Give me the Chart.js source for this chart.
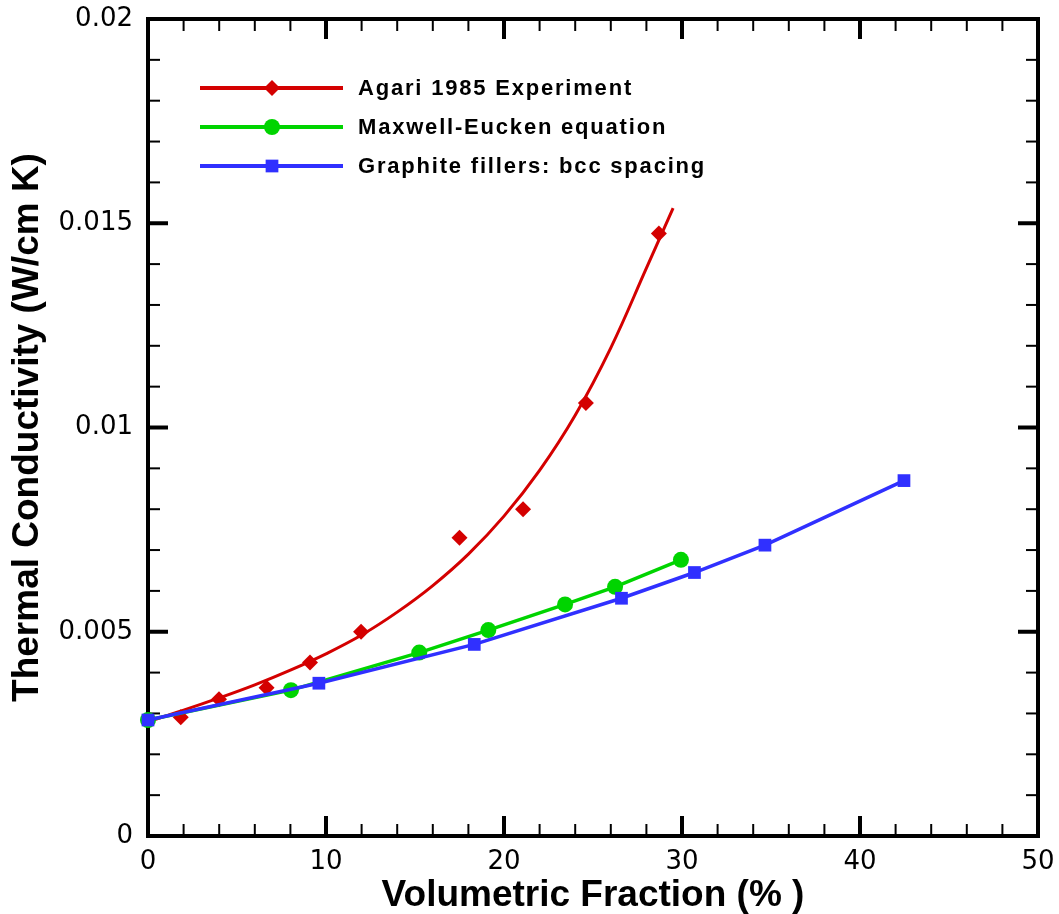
<!DOCTYPE html>
<html>
<head>
<meta charset="utf-8">
<script src="https://cdn.jsdelivr.net/npm/chart.js@4.4.0/dist/chart.umd.min.js"></script>
<style>
  html, body { margin: 0; padding: 0; background: #fff; }
  #wrap { width: 1059px; height: 914px; position: relative; }
</style>
</head>
<body>
<div id="wrap"><canvas id="conductivityChart"></canvas></div>
<script>
// values
const agariX = [1.84, 3.99, 6.66, 9.1, 11.97, 17.5, 21.07, 24.6, 28.7];
const agariY = [0.00291, 0.00335, 0.00363, 0.00425, 0.0050, 0.0073, 0.0080, 0.0106, 0.01475];
const agariFitX = [0, 2, 4, 6, 8, 10, 12, 14, 16, 18, 20, 22, 24, 26, 28, 29.5];
const agariFitY = [0.0028, 0.00308, 0.00338, 0.0037, 0.00406, 0.00446, 0.00492, 0.00548, 0.00613, 0.0069, 0.00783, 0.00895, 0.0103, 0.01195, 0.0139, 0.01537];
const maxwellX = [0, 8.03, 15.24, 19.12, 23.43, 26.24, 29.94];
const maxwellY = [0.00284, 0.00357, 0.00449, 0.00504, 0.00567, 0.0061, 0.00676];
const bccX = [0, 9.6, 18.33, 26.6, 30.7, 34.66, 42.47];
const bccY = [0.00284, 0.00374, 0.00469, 0.00582, 0.00645, 0.00712, 0.0087];

const xTickValues = [0, 10, 20, 30, 40, 50];
const xTickLabels = ['0', '10', '20', '30', '40', '50'];
const yTickValues = [0, 0.005, 0.01, 0.015, 0.02];
const yTickLabels = ['0', '0.005', '0.01', '0.015', '0.02'];
const seriesNames = ['Agari 1985 Experiment', 'Maxwell-Eucken equation', 'Graphite fillers: bcc spacing'];

const RED = '#d40000';
const GREEN = '#00d400';
const BLUE = '#3030ff';

const zip = (xs, ys) => xs.map((x, i) => ({ x: x, y: ys[i] }));

const legendEntries = [
  { name: seriesNames[0], color: RED, style: 'rectRot', radius: 8 },
  { name: seriesNames[1], color: GREEN, style: 'circle', radius: 8 },
  { name: seriesNames[2], color: BLUE, style: 'rect', radius: 9 }
];

// box frame with inward major/minor ticks on all four sides
const frameTicks = {
  id: 'frameTicks',
  beforeDatasetsDraw(chart) {
    const { ctx, chartArea: a, scales: { x, y } } = chart;
    ctx.save();
    ctx.strokeStyle = '#000';
    const tick = (px, py, dx, dy, w) => {
      ctx.lineWidth = w;
      ctx.beginPath();
      ctx.moveTo(px, py);
      ctx.lineTo(px + dx, py + dy);
      ctx.stroke();
    };
    for (let v = 0; v <= 50; v += 2) {
      const px = x.getPixelForValue(v);
      const major = v % 10 === 0;
      const len = major ? 20 : 12;
      const w = major ? 4 : 2;
      tick(px, a.bottom, 0, -len, w);
      tick(px, a.top, 0, len, w);
    }
    for (let i = 0; i <= 20; i++) {
      const py = y.getPixelForValue(i * 0.001);
      const major = i % 5 === 0;
      const len = major ? 20 : 12;
      const w = major ? 4 : 2;
      tick(a.left, py, len, 0, w);
      tick(a.right, py, -len, 0, w);
    }
    ctx.lineWidth = 4;
    ctx.strokeRect(a.left, a.top, a.right - a.left, a.bottom - a.top);
    ctx.restore();
  }
};

// legend with line + marker, inside the plot, top left
const lineLegend = {
  id: 'lineLegend',
  afterDatasetsDraw(chart) {
    const { ctx, chartArea: a } = chart;
    ctx.save();
    legendEntries.forEach((e, i) => {
      const yy = a.top + 69 + i * 39;
      ctx.strokeStyle = e.color;
      ctx.lineWidth = 4;
      ctx.beginPath();
      ctx.moveTo(a.left + 52, yy);
      ctx.lineTo(a.left + 195, yy);
      ctx.stroke();
      ctx.fillStyle = e.color;
      Chart.helpers.drawPoint(ctx, { pointStyle: e.style, radius: e.radius, rotation: 0, borderWidth: 0 }, a.left + 124, yy);
      ctx.fillStyle = '#000';
      ctx.font = 'bold 22px "Liberation Sans", Arial, sans-serif';
      ctx.letterSpacing = '1.8px';
      ctx.textBaseline = 'middle';
      ctx.textAlign = 'left';
      ctx.fillText(e.name, a.left + 210, yy + 1);
    });
    ctx.restore();
  }
};

const ctx = document.getElementById('conductivityChart');

new Chart(ctx, {
  type: 'scatter',
  data: {
    datasets: [
      {
        label: seriesNames[2],
        data: zip(bccX, bccY),
        showLine: true,
        borderColor: BLUE,
        backgroundColor: BLUE,
        borderWidth: 3.5,
        pointStyle: 'rect',
        pointRadius: 9,
        pointBorderWidth: 0,
        clip: false
      },
      {
        label: seriesNames[1],
        data: zip(maxwellX, maxwellY),
        showLine: true,
        borderColor: GREEN,
        backgroundColor: GREEN,
        borderWidth: 3.5,
        pointStyle: 'circle',
        pointRadius: 8,
        pointBorderWidth: 0,
        clip: false
      },
      {
        label: seriesNames[0] + ' fit',
        data: zip(agariFitX, agariFitY),
        showLine: true,
        borderColor: RED,
        borderWidth: 3,
        pointRadius: 0,
        tension: 0.4,
        clip: false
      },
      {
        label: seriesNames[0],
        data: zip(agariX, agariY),
        showLine: false,
        backgroundColor: RED,
        pointStyle: 'rectRot',
        pointRadius: 8,
        pointBorderWidth: 0,
        clip: false
      }
    ]
  },
  options: {
    responsive: true,
    maintainAspectRatio: false,
    animation: false,
    layout: { padding: { left: 0, top: 19, right: 21, bottom: 0 } },
    plugins: { legend: { display: false }, tooltip: { enabled: false } },
    scales: {
      x: {
        type: 'linear',
        min: 0,
        max: 50,
        afterBuildTicks: s => { s.ticks = xTickValues.map(v => ({ value: v })); },
        afterFit: s => { s.height = 78; s.paddingLeft = 0; s.paddingRight = 0; },
        grid: { display: false, drawTicks: false },
        border: { display: false },
        ticks: {
          callback: (v, i) => xTickLabels[i],
          color: '#000',
          padding: 11,
          maxRotation: 0,
          font: { family: '"DejaVu Sans", sans-serif', size: 26 }
        },
        title: {
          display: true,
          text: 'Volumetric Fraction (% )',
          color: '#000',
          padding: { top: 0, bottom: 0 },
          font: { family: '"Liberation Sans", Arial, sans-serif', size: 37, weight: 'bold', lineHeight: 1 }
        }
      },
      y: {
        type: 'linear',
        min: 0,
        max: 0.02,
        afterBuildTicks: s => { s.ticks = yTickValues.map(v => ({ value: v })); },
        afterFit: s => { s.width = 148; s.paddingTop = 0; s.paddingBottom = 0; },
        grid: { display: false, drawTicks: false },
        border: { display: false },
        ticks: {
          callback: (v, i) => yTickLabels[i],
          color: '#000',
          padding: 15,
          font: { family: '"DejaVu Sans", sans-serif', size: 26 }
        },
        title: {
          display: true,
          text: 'Thermal Conductivity (W/cm K)',
          color: '#000',
          padding: { top: 9, bottom: 0 },
          font: { family: '"Liberation Sans", Arial, sans-serif', size: 37, weight: 'bold', lineHeight: 1 }
        }
      }
    }
  },
  plugins: [frameTicks, lineLegend]
});
</script>
</body>
</html>
